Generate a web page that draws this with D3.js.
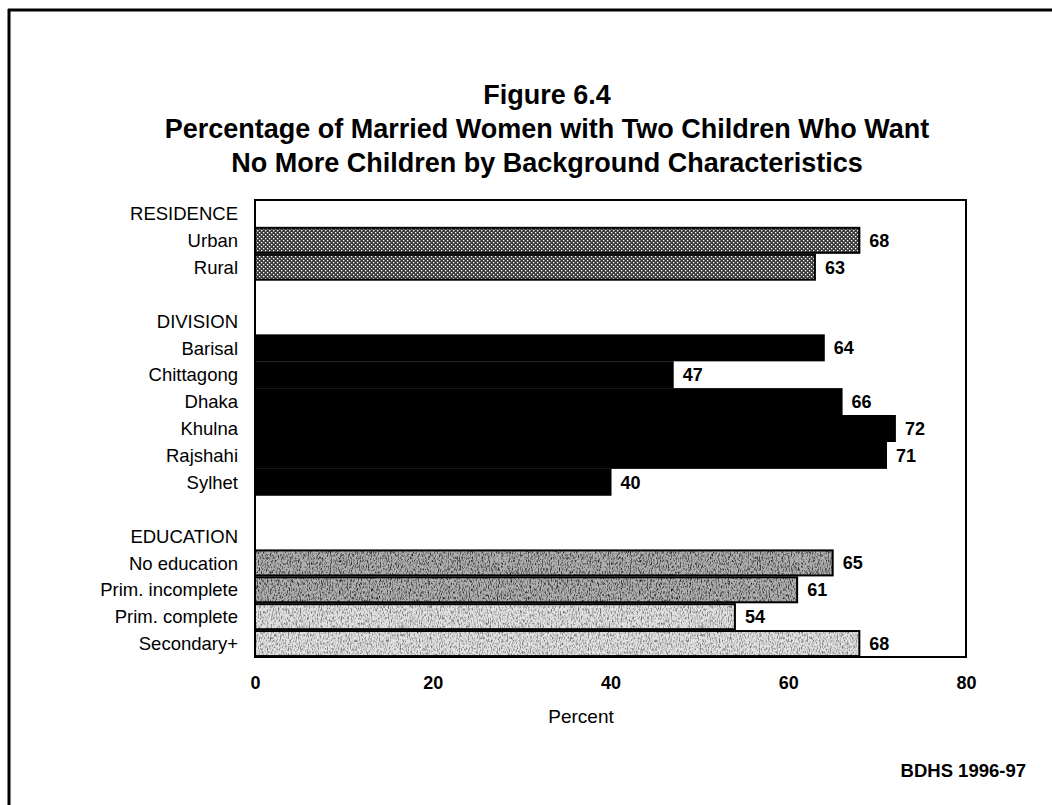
<!DOCTYPE html>
<html>
<head>
<meta charset="utf-8">
<title>Figure 6.4</title>
<style>
  body { margin: 0; background: #fff; }
  svg { display: block; font-family: "Liberation Sans", Arial, sans-serif; }
</style>
</head>
<body>
<script src="https://d3js.org/d3.v7.min.js"></script>
<script>
// chart data
var residenceLabels = ["Urban", "Rural"];
var residenceValues = [68, 63];
var divisionLabels = ["Barisal", "Chittagong", "Dhaka", "Khulna", "Rajshahi", "Sylhet"];
var divisionValues = [64, 47, 66, 72, 71, 40];
var educationLabels = ["No education", "Prim. incomplete", "Prim. complete", "Secondary+"];
var educationValues = [65, 61, 54, 68];
var xTicks = [0, 20, 40, 60, 80];

var W = 1052, H = 805;
var margin = {top: 200, right: 86, bottom: 148, left: 255};
var width = W - margin.left - margin.right;
var height = H - margin.top - margin.bottom;

// build the row list: group header, items, spacer
var groups = [
  {name: "RESIDENCE", labels: residenceLabels, values: residenceValues, fill: "url(#dots)"},
  {name: "DIVISION", labels: divisionLabels, values: divisionValues, fill: "#000"},
  {name: "EDUCATION", labels: educationLabels, values: educationValues,
   fill: ["url(#noiseDark)", "url(#noiseDark)", "url(#noiseLight)", "url(#noiseLight)"]}
];
var rows = [];
groups.forEach(function(g, gi) {
  if (gi > 0) rows.push({key: "sp" + gi, type: "spacer"});
  rows.push({key: g.name, type: "header", label: g.name});
  g.labels.forEach(function(l, i) {
    rows.push({key: l, type: "bar", label: l, value: g.values[i],
      fill: Array.isArray(g.fill) ? g.fill[i] : g.fill});
  });
});

var svg = d3.select("body").append("svg")
  .attr("width", W).attr("height", H);

// patterns
var defs = svg.append("defs");
var dots = defs.append("pattern").attr("id", "dots")
  .attr("patternUnits", "userSpaceOnUse").attr("width", 4).attr("height", 4);
dots.append("rect").attr("width", 4).attr("height", 4).attr("fill", "#3a3a3a");
dots.append("rect").attr("x", 0).attr("y", 0).attr("width", 1.3).attr("height", 1.3).attr("fill", "#fff");
dots.append("rect").attr("x", 2).attr("y", 2).attr("width", 1.3).attr("height", 1.3).attr("fill", "#fff");

function noisePattern(id, base, freq, slope) {
  var f = defs.append("filter").attr("id", id + "F")
    .attr("x", 0).attr("y", 0).attr("width", 1).attr("height", 1);
  f.append("feTurbulence").attr("type", "fractalNoise")
    .attr("baseFrequency", freq).attr("numOctaves", 3).attr("seed", 4);
  f.append("feColorMatrix").attr("type", "matrix")
    .attr("values", "0 0 0 0 0  0 0 0 0 0  0 0 0 0 0  " + slope + " 0 0 0 " + (-slope * 0.45));
  var p = defs.append("pattern").attr("id", id)
    .attr("patternUnits", "userSpaceOnUse").attr("width", 300).attr("height", 120);
  p.append("rect").attr("width", 300).attr("height", 120).attr("fill", base);
  p.append("rect").attr("width", 300).attr("height", 120).attr("filter", "url(#" + id + "F)");
}
noisePattern("noiseDark", "#b0b0b0", "0.9 0.35", 2.2);
noisePattern("noiseLight", "#e2e2e2", "0.9 0.35", 1.4);

// outer frame (top and left edges only, as in the scan)
svg.append("line").attr("x1", 8).attr("x2", W).attr("y1", 10).attr("y2", 10)
  .attr("stroke", "#000").attr("stroke-width", 3);
svg.append("line").attr("x1", 9).attr("x2", 9).attr("y1", 9).attr("y2", H)
  .attr("stroke", "#000").attr("stroke-width", 3);

// title
var titleLines = ["Figure 6.4",
  "Percentage of Married Women with Two Children Who Want",
  "No More Children by Background Characteristics"];
svg.append("g").selectAll("text").data(titleLines).enter().append("text")
  .attr("x", 547).attr("y", function(d, i) { return 104 + i * 34; })
  .attr("text-anchor", "middle")
  .attr("font-weight", "bold").attr("font-size", 27)
  .text(function(d) { return d; });

var g = svg.append("g").attr("transform", "translate(" + margin.left + "," + margin.top + ")");

var x = d3.scaleLinear().domain([0, 80]).range([0, width]);
var y = d3.scaleBand().domain(rows.map(function(d) { return d.key; }))
  .range([0, height]).paddingInner(0.07).paddingOuter(0.035);

// row labels
g.selectAll(".rowlabel").data(rows.filter(function(d) { return d.type !== "spacer"; }))
  .enter().append("text")
  .attr("class", "rowlabel")
  .attr("x", -17)
  .attr("y", function(d) { return y(d.key) + y.bandwidth() / 2; })
  .attr("dy", "0.36em")
  .attr("text-anchor", "end")
  .attr("font-size", 18.5)
  .text(function(d) { return d.label; });

var bars = rows.filter(function(d) { return d.type === "bar"; });

g.selectAll(".bar").data(bars).enter().append("rect")
  .attr("class", "bar")
  .attr("x", 0)
  .attr("y", function(d) { return y(d.key); })
  .attr("width", function(d) { return x(d.value); })
  .attr("height", y.bandwidth())
  .attr("fill", function(d) { return d.fill; })
  .attr("stroke", "#000").attr("stroke-width", 2);

g.selectAll(".val").data(bars).enter().append("text")
  .attr("class", "val")
  .attr("x", function(d) { return x(d.value) + 10; })
  .attr("y", function(d) { return y(d.key) + y.bandwidth() / 2; })
  .attr("dy", "0.36em")
  .attr("font-size", 18).attr("font-weight", "bold")
  .text(function(d) { return d.value; });

// plot frame
g.append("rect").attr("width", width).attr("height", height)
  .attr("fill", "none").attr("stroke", "#000").attr("stroke-width", 2);

// x axis (labels only)
var xAxis = g.append("g").attr("transform", "translate(0," + height + ")")
  .call(d3.axisBottom(x).tickValues(xTicks).tickSize(0).tickPadding(19).tickFormat(d3.format("d")));
xAxis.select(".domain").remove();
xAxis.selectAll("text").attr("font-size", 18).attr("font-weight", "bold")
  .attr("font-family", "Liberation Sans, Arial, sans-serif").attr("fill", "#000");

g.append("text").attr("x", 581 - margin.left).attr("y", height + 66)
  .attr("text-anchor", "middle").attr("font-size", 19)
  .text("Percent");

svg.append("text").attr("x", 1026).attr("y", 777)
  .attr("text-anchor", "end").attr("font-size", 18.5).attr("font-weight", "bold")
  .text("BDHS 1996-97");
</script>
</body>
</html>
